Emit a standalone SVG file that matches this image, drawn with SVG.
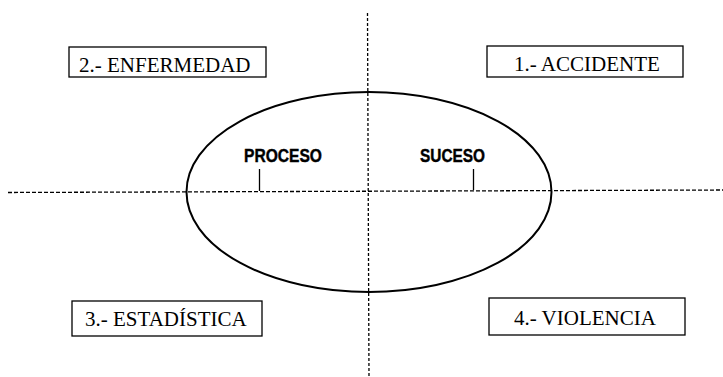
<svg xmlns="http://www.w3.org/2000/svg" width="723" height="377" viewBox="0 0 723 377">
<style>
.box{fill:#fff;stroke:#000;stroke-width:1.3}
.lbl{font-family:"Liberation Serif","Times New Roman",serif;font-size:21px;fill:#000}
.bold{font-family:"Liberation Sans",Arial,sans-serif;font-weight:bold;font-size:18px;fill:#000;stroke:#000;stroke-width:0.4}
.dash{stroke:#000;stroke-width:1.3;fill:none}
.tick{stroke:#000;stroke-width:1.3}
</style>
<rect width="723" height="377" fill="#fff"/>
<g id="connectors">
<line class="dash" x1="8" y1="192.5" x2="723" y2="190" stroke-dasharray="4 2"/>
<line class="dash" x1="367.5" y1="13" x2="369" y2="377" stroke-dasharray="3 2"/>
</g>
<g id="ellipse">
<ellipse cx="369" cy="192" rx="182.5" ry="100" fill="none" stroke="#000" stroke-width="2"/>
<line class="tick" x1="259.5" y1="169" x2="259.5" y2="191"/>
<line class="tick" x1="473.5" y1="169" x2="473.5" y2="190"/>
<text class="bold" x="244" y="162" textLength="78" lengthAdjust="spacingAndGlyphs">PROCESO</text>
<text class="bold" x="420" y="162" textLength="65" lengthAdjust="spacingAndGlyphs">SUCESO</text>
</g>
<g id="n2">
<rect class="box" x="69" y="47" width="197" height="30"/>
<text class="lbl" x="79" y="72">2.- ENFERMEDAD</text>
</g>
<g id="n1">
<rect class="box" x="487" y="46" width="196" height="31"/>
<text class="lbl" x="514" y="71">1.- ACCIDENTE</text>
</g>
<g id="n3">
<rect class="box" x="72" y="301" width="190" height="35"/>
<text class="lbl" x="85" y="326">3.- ESTADÍSTICA</text>
</g>
<g id="n4">
<rect class="box" x="489" y="298" width="196" height="37"/>
<text class="lbl" x="514" y="325">4.- VIOLENCIA</text>
</g>
</svg>
